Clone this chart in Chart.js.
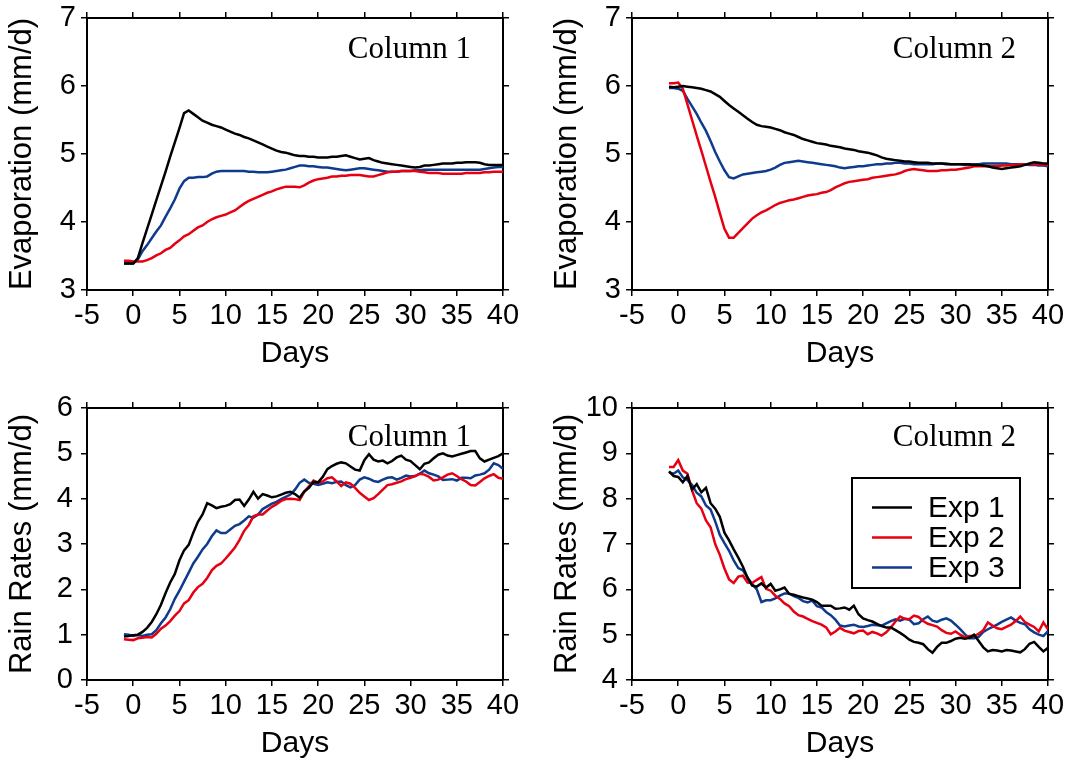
<!DOCTYPE html>
<html>
<head>
<meta charset="utf-8">
<script src="https://cdn.jsdelivr.net/npm/chart.js@4.4.1/dist/chart.umd.min.js"></script>
<style>
  html, body { margin: 0; padding: 0; background: #fff; }
  body { width: 1067px; height: 762px; position: relative; overflow: hidden; }
  .panel { position: absolute; width: 523px; height: 380px; }
</style>
</head>
<body>
<div class="panel" style="left:0;top:-8px"><canvas id="evap1"></canvas></div>
<div class="panel" style="left:545px;top:-8px"><canvas id="evap2"></canvas></div>
<div class="panel" style="left:0;top:382px"><canvas id="rain1"></canvas></div>
<div class="panel" style="left:545px;top:382px"><canvas id="rain2"></canvas></div>
<script>
// days since switch, every half day
var days = [-1, -0.5,
  0, 0.5, 1, 1.5, 2, 2.5, 3, 3.5, 4, 4.5,
  5, 5.5, 6, 6.5, 7, 7.5, 8, 8.5, 9, 9.5,
  10, 10.5, 11, 11.5, 12, 12.5, 13, 13.5, 14, 14.5,
  15, 15.5, 16, 16.5, 17, 17.5, 18, 18.5, 19, 19.5,
  20, 20.5, 21, 21.5, 22, 22.5, 23, 23.5, 24, 24.5,
  25, 25.5, 26, 26.5, 27, 27.5, 28, 28.5, 29, 29.5,
  30, 30.5, 31, 31.5, 32, 32.5, 33, 33.5, 34, 34.5,
  35, 35.5, 36, 36.5, 37, 37.5, 38, 38.5, 39, 39.5,
  40];

var seriesNames = ['Exp 1', 'Exp 2', 'Exp 3'];
var seriesColors = ['#000000', '#e60012', '#0f3b8c'];
var panelLabels = ['Column 1', 'Column 2', 'Column 1', 'Column 2'];
var dayRange = [-5, 40];
var evapRange = [3, 7];
var rainCol1Range = [0, 6];
var rainCol2Range = [4, 10];

var evapCol1Exp1 = [3.39, 3.39,
  3.39, 3.47, 3.69, 3.90, 4.11, 4.32, 4.53, 4.74, 4.96, 5.17,
  5.38, 5.60, 5.64, 5.59, 5.54, 5.49, 5.46, 5.43, 5.41, 5.39,
  5.36, 5.33, 5.30, 5.28, 5.25, 5.23, 5.20, 5.17, 5.14, 5.11,
  5.08, 5.05, 5.03, 5.02, 5.00, 4.98, 4.97, 4.97, 4.96, 4.96,
  4.95, 4.95, 4.95, 4.96, 4.96, 4.97, 4.98, 4.96, 4.94, 4.92,
  4.93, 4.94, 4.91, 4.89, 4.87, 4.86, 4.85, 4.84, 4.83, 4.82,
  4.81, 4.80, 4.81, 4.83, 4.83, 4.84, 4.85, 4.86, 4.86, 4.86,
  4.87, 4.87, 4.88, 4.88, 4.88, 4.87, 4.85, 4.84, 4.84, 4.84,
  4.84];
var evapCol1Exp2 = [3.43, 3.43,
  3.42, 3.42, 3.42, 3.44, 3.47, 3.51, 3.54, 3.59, 3.62, 3.68,
  3.73, 3.79, 3.82, 3.87, 3.92, 3.95, 4.00, 4.04, 4.07, 4.09,
  4.11, 4.14, 4.17, 4.22, 4.27, 4.31, 4.34, 4.37, 4.40, 4.43,
  4.45, 4.48, 4.50, 4.52, 4.52, 4.52, 4.51, 4.54, 4.58, 4.61,
  4.63, 4.64, 4.65, 4.67, 4.67, 4.68, 4.68, 4.69, 4.69, 4.69,
  4.68, 4.67, 4.67, 4.69, 4.71, 4.73, 4.74, 4.74, 4.75, 4.75,
  4.75, 4.75, 4.74, 4.73, 4.72, 4.72, 4.72, 4.71, 4.71, 4.71,
  4.71, 4.71, 4.72, 4.72, 4.72, 4.72, 4.73, 4.73, 4.74, 4.74,
  4.74];
var evapCol1Exp3 = [3.39, 3.39,
  3.39, 3.45, 3.57, 3.66, 3.76, 3.86, 3.95, 4.08, 4.20, 4.33,
  4.49, 4.60, 4.65, 4.65, 4.66, 4.66, 4.67, 4.71, 4.74, 4.75,
  4.75, 4.75, 4.75, 4.75, 4.75, 4.74, 4.74, 4.73, 4.73, 4.73,
  4.74, 4.75, 4.76, 4.77, 4.79, 4.81, 4.83, 4.83, 4.82, 4.82,
  4.81, 4.80, 4.80, 4.79, 4.78, 4.77, 4.76, 4.77, 4.78, 4.79,
  4.79, 4.78, 4.77, 4.76, 4.75, 4.74, 4.74, 4.74, 4.75, 4.75,
  4.75, 4.76, 4.76, 4.77, 4.77, 4.77, 4.77, 4.77, 4.77, 4.77,
  4.77, 4.77, 4.77, 4.77, 4.77, 4.77, 4.78, 4.79, 4.80, 4.81,
  4.81];

var evapCol2Exp1 = [5.99, 5.98,
  5.99, 6.00, 5.99, 5.98, 5.97, 5.96, 5.94, 5.92, 5.88, 5.84,
  5.78, 5.72, 5.67, 5.62, 5.57, 5.52, 5.47, 5.43, 5.41, 5.40,
  5.39, 5.37, 5.35, 5.32, 5.30, 5.28, 5.25, 5.22, 5.20, 5.18,
  5.16, 5.15, 5.14, 5.12, 5.11, 5.10, 5.08, 5.07, 5.06, 5.04,
  5.03, 5.02, 5.00, 4.98, 4.95, 4.93, 4.92, 4.91, 4.90, 4.89,
  4.89, 4.88, 4.87, 4.87, 4.87, 4.86, 4.86, 4.86, 4.85, 4.85,
  4.85, 4.85, 4.85, 4.85, 4.84, 4.84, 4.83, 4.82, 4.80, 4.79,
  4.78, 4.79, 4.80, 4.81, 4.82, 4.84, 4.86, 4.88, 4.87, 4.86,
  4.86];
var evapCol2Exp2 = [6.04, 6.04,
  6.05, 5.96, 5.73, 5.50, 5.27, 5.05, 4.82, 4.59, 4.37, 4.13,
  3.90, 3.77, 3.77, 3.84, 3.91, 3.98, 4.05, 4.10, 4.14, 4.17,
  4.21, 4.25, 4.28, 4.30, 4.32, 4.33, 4.35, 4.37, 4.39, 4.40,
  4.41, 4.43, 4.44, 4.47, 4.51, 4.54, 4.57, 4.59, 4.60, 4.61,
  4.62, 4.63, 4.65, 4.66, 4.67, 4.68, 4.69, 4.70, 4.72, 4.75,
  4.77, 4.78, 4.77, 4.76, 4.75, 4.75, 4.75, 4.76, 4.76, 4.77,
  4.77, 4.78, 4.79, 4.80, 4.82, 4.82, 4.82, 4.82, 4.82, 4.82,
  4.83, 4.83, 4.84, 4.84, 4.85, 4.85, 4.85, 4.85, 4.85, 4.84,
  4.84];
var evapCol2Exp3 = [5.97, 5.97,
  5.96, 5.93, 5.81, 5.70, 5.59, 5.46, 5.34, 5.19, 5.03, 4.89,
  4.76, 4.66, 4.64, 4.67, 4.70, 4.71, 4.72, 4.73, 4.74, 4.75,
  4.77, 4.80, 4.84, 4.87, 4.88, 4.89, 4.90, 4.89, 4.88, 4.87,
  4.86, 4.85, 4.84, 4.83, 4.82, 4.80, 4.79, 4.80, 4.81, 4.82,
  4.82, 4.83, 4.84, 4.85, 4.85, 4.86, 4.86, 4.87, 4.87, 4.86,
  4.86, 4.85, 4.85, 4.85, 4.85, 4.85, 4.86, 4.86, 4.86, 4.85,
  4.85, 4.85, 4.84, 4.84, 4.85, 4.85, 4.86, 4.86, 4.86, 4.86,
  4.86, 4.86, 4.85, 4.85, 4.85, 4.85, 4.84, 4.84, 4.83, 4.83,
  4.82];

var rainCol1Exp1 = [0.96, 0.97,
  0.99, 1.00, 1.06, 1.15, 1.28, 1.45, 1.66, 1.92, 2.15, 2.34,
  2.64, 2.86, 2.98, 3.25, 3.49, 3.65, 3.90, 3.85, 3.79, 3.82,
  3.84, 3.88, 3.97, 3.98, 3.84, 3.98, 4.15, 4.00, 4.10, 4.07,
  4.03, 4.05, 4.09, 4.13, 4.15, 4.10, 4.02, 4.16, 4.24, 4.37,
  4.36, 4.48, 4.65, 4.72, 4.77, 4.80, 4.78, 4.71, 4.64, 4.62,
  4.85, 4.98, 4.86, 4.82, 4.84, 4.78, 4.83, 4.91, 4.95, 4.86,
  4.83, 4.74, 4.65, 4.77, 4.80, 4.89, 4.97, 5.00, 4.95, 4.93,
  4.96, 4.99, 5.02, 5.05, 5.05, 4.89, 4.82, 4.86, 4.90, 4.94,
  5.00];
var rainCol1Exp2 = [0.90, 0.89,
  0.88, 0.92, 0.93, 0.95, 0.94, 1.02, 1.13, 1.20, 1.30, 1.42,
  1.52, 1.69, 1.76, 1.93, 2.05, 2.12, 2.25, 2.42, 2.52, 2.57,
  2.68, 2.80, 2.92, 3.09, 3.29, 3.42, 3.61, 3.65, 3.65, 3.74,
  3.82, 3.88, 3.95, 3.99, 4.00, 3.99, 3.97, 4.15, 4.27, 4.40,
  4.35, 4.38, 4.45, 4.47, 4.38, 4.28, 4.36, 4.33, 4.24, 4.13,
  4.05, 3.97, 4.01, 4.10, 4.20, 4.30, 4.32, 4.35, 4.38, 4.43,
  4.46, 4.50, 4.55, 4.53, 4.48, 4.40, 4.42, 4.47, 4.53, 4.56,
  4.50, 4.43, 4.38, 4.30, 4.29, 4.37, 4.45, 4.50, 4.54, 4.46,
  4.44];
var rainCol1Exp3 = [1.01, 1.00,
  0.97, 0.99, 0.97, 1.00, 1.01, 1.10, 1.25, 1.38, 1.56, 1.79,
  1.97, 2.17, 2.37, 2.57, 2.72, 2.88, 3.00, 3.17, 3.30, 3.24,
  3.24, 3.32, 3.40, 3.44, 3.52, 3.61, 3.58, 3.65, 3.77, 3.83,
  3.89, 3.93, 3.99, 4.04, 4.09, 4.20, 4.35, 4.42, 4.35, 4.33,
  4.30, 4.33, 4.36, 4.34, 4.37, 4.38, 4.30, 4.25, 4.30, 4.42,
  4.47, 4.44, 4.39, 4.37, 4.42, 4.46, 4.47, 4.42, 4.46, 4.51,
  4.49, 4.50, 4.55, 4.62, 4.56, 4.53, 4.49, 4.41, 4.42, 4.43,
  4.40, 4.46, 4.46, 4.45, 4.51, 4.53, 4.56, 4.64, 4.78, 4.74,
  4.66];

var rainCol2Exp1 = [8.60, 8.50,
  8.48, 8.36, 8.50, 8.20, 8.32, 8.14, 8.24, 7.90, 7.78, 7.60,
  7.25, 7.08, 6.88, 6.70, 6.50, 6.25, 6.08, 6.06, 6.13, 6.04,
  6.12, 5.97, 6.00, 6.04, 5.90, 5.88, 5.85, 5.82, 5.80, 5.77,
  5.72, 5.64, 5.64, 5.64, 5.57, 5.58, 5.60, 5.55, 5.64, 5.45,
  5.36, 5.32, 5.29, 5.24, 5.19, 5.16, 5.16, 5.10, 5.04, 4.97,
  4.89, 4.84, 4.82, 4.79, 4.68, 4.60, 4.73, 4.82, 4.82, 4.86,
  4.91, 4.93, 4.91, 4.93, 5.00, 4.86, 4.72, 4.63, 4.66, 4.65,
  4.63, 4.66, 4.65, 4.63, 4.61, 4.68, 4.80, 4.84, 4.73, 4.63,
  4.71];
var rainCol2Exp2 = [8.70, 8.70,
  8.85, 8.62, 8.55, 8.18, 7.90, 7.78, 7.52, 7.37, 7.00, 6.76,
  6.46, 6.22, 6.14, 6.28, 6.30, 6.15, 6.14, 6.21, 6.27, 6.01,
  5.97, 5.86, 5.79, 5.69, 5.63, 5.51, 5.43, 5.40, 5.35, 5.30,
  5.26, 5.22, 5.16, 5.01, 5.07, 5.15, 5.09, 5.06, 5.03, 5.08,
  5.09, 5.01, 5.06, 5.03, 4.98, 5.05, 5.16, 5.29, 5.40, 5.35,
  5.34, 5.42, 5.39, 5.30, 5.24, 5.21, 5.18, 5.10, 5.04, 5.02,
  5.07, 5.00, 4.94, 4.97, 4.97, 5.02, 5.10, 5.27, 5.20, 5.14,
  5.12, 5.17, 5.22, 5.30, 5.40, 5.28, 5.22, 5.17, 5.07, 5.27,
  5.12];
var rainCol2Exp3 = [8.58, 8.55,
  8.62, 8.47, 8.41, 8.30, 8.13, 8.05, 7.85, 7.76, 7.50, 7.20,
  7.02, 6.85, 6.64, 6.47, 6.42, 6.26, 6.12, 6.00, 5.72, 5.76,
  5.76, 5.80, 5.86, 5.91, 5.91, 5.85, 5.81, 5.74, 5.71, 5.75,
  5.63, 5.60, 5.50, 5.43, 5.33, 5.20, 5.18, 5.20, 5.22, 5.18,
  5.17, 5.19, 5.22, 5.21, 5.20, 5.25, 5.30, 5.34, 5.31, 5.35,
  5.33, 5.23, 5.25, 5.34, 5.40, 5.31, 5.28, 5.33, 5.36, 5.31,
  5.22, 5.12, 5.01, 4.92, 4.92, 4.95, 5.06, 5.12, 5.17, 5.22,
  5.28, 5.33, 5.38, 5.31, 5.26, 5.23, 5.12, 5.05, 5.00, 4.97,
  5.08];

var sansFont = '"Liberation Sans", Arial, Helvetica, sans-serif';
var serifFont = '"Liberation Serif", "Times New Roman", serif';

// panel label and legend box drawn inside the plot
var panelText = {
  id: 'panelText',
  afterDraw: function (chart, args, opts) {
    var ctx = chart.ctx, area = chart.chartArea;
    ctx.save();
    ctx.fillStyle = '#000';
    ctx.font = '31px ' + serifFont;
    ctx.textAlign = 'right';
    ctx.textBaseline = 'alphabetic';
    ctx.fillText(opts.label, area.right - 32, area.top + opts.labelY);
    if (opts.legend) {
      var x0 = area.right - 196, y0 = area.top + 70, w = 168, h = 110;
      ctx.lineWidth = 2;
      ctx.strokeStyle = '#000';
      ctx.strokeRect(x0, y0, w, h);
      ctx.font = '30px ' + sansFont;
      ctx.textAlign = 'left';
      ctx.textBaseline = 'middle';
      chart.data.datasets.forEach(function (ds, i) {
        var y = y0 + 29.5 + i * 30;
        ctx.strokeStyle = ds.borderColor;
        ctx.lineWidth = 2.5;
        ctx.beginPath();
        ctx.moveTo(x0 + 20, y);
        ctx.lineTo(x0 + 60, y);
        ctx.stroke();
        ctx.fillText(ds.label, x0 + 76, y + 1);
      });
    }
    ctx.restore();
  }
};

function frameAxis(pos, range, step, size, showLabels, title, labelPad) {
  var horiz = pos === 'bottom' || pos === 'top';
  var ax = {
    type: 'linear',
    position: pos,
    min: range[0],
    max: range[1],
    ticks: {
      stepSize: step,
      display: showLabels,
      color: '#000',
      font: { family: sansFont, size: 29 },
      padding: labelPad,
      maxRotation: 0,
      autoSkip: false
    },
    grid: {
      drawOnChartArea: false,
      drawTicks: true,
      tickLength: 6,
      color: '#000',
      lineWidth: 1.5
    },
    border: { display: true, color: '#000', width: 2 },
    afterFit: function (scale) {
      if (horiz) scale.height = size; else scale.width = size;
    }
  };
  if (title) {
    ax.title = {
      display: true,
      text: title,
      color: '#000',
      font: { family: sansFont, size: horiz ? 30 : 31 },
      padding: horiz ? { top: 0, bottom: 0 } : { top: 4, bottom: 0 }
    };
  }
  return ax;
}

function makePanel(id, series, yRange, yTitle, label, labelY, legend, yPad) {
  new Chart(document.getElementById(id), {
    type: 'line',
    data: {
      labels: days,
      datasets: series.map(function (vals, i) {
        return {
          label: seriesNames[i],
          data: vals,
          borderColor: seriesColors[i],
          borderWidth: 2.5,
          pointRadius: 0,
          tension: 0,
          fill: false,
          xAxisID: 'x',
          yAxisID: 'y'
        };
      })
    },
    options: {
      responsive: true,
      maintainAspectRatio: false,
      animation: false,
      layout: { padding: 0 },
      scales: {
        x: frameAxis('bottom', dayRange, 5, 82, true, 'Days', 3),
        x2: frameAxis('top', dayRange, 5, 26, false, null, 0),
        y: frameAxis('left', yRange, 1, 87, true, yTitle, yPad),
        y2: frameAxis('right', yRange, 1, 20, false, null, 0)
      },
      plugins: {
        legend: { display: false },
        tooltip: { enabled: false },
        panelText: { label: label, labelY: labelY, legend: legend }
      }
    },
    plugins: [panelText]
  });
}

makePanel('evap1', [evapCol1Exp1, evapCol1Exp2, evapCol1Exp3], evapRange,
  'Evaporation (mm/d)', panelLabels[0], 40, false, 5);
makePanel('evap2', [evapCol2Exp1, evapCol2Exp2, evapCol2Exp3], evapRange,
  'Evaporation (mm/d)', panelLabels[1], 40, false, 5);
makePanel('rain1', [rainCol1Exp1, rainCol1Exp2, rainCol1Exp3], rainCol1Range,
  'Rain Rates (mm/d)', panelLabels[2], 38, false, 8);
makePanel('rain2', [rainCol2Exp1, rainCol2Exp2, rainCol2Exp3], rainCol2Range,
  'Rain Rates (mm/d)', panelLabels[3], 38, true, 8);
</script>
</body>
</html>
